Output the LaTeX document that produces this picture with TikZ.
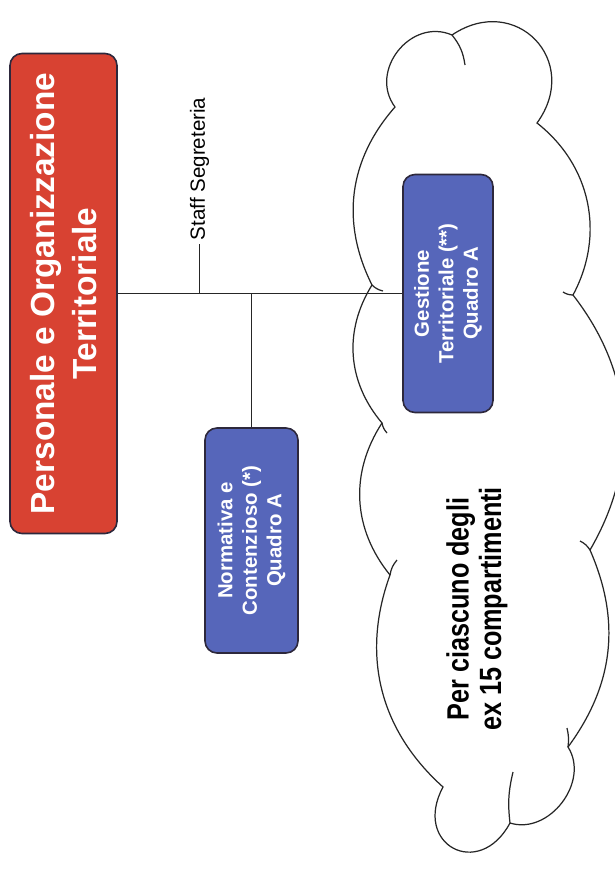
\documentclass[tikz,border=0pt]{standalone}
\usepackage{fontspec}
\setmainfont{Liberation Sans}
\newfontfamily\narrowfont[FakeStretch=0.82]{Liberation Sans}
\usetikzlibrary{positioning,calc}
\definecolor{orgred}{RGB}{216,66,50}
\definecolor{orgblue}{RGB}{86,102,186}
\definecolor{orgedge}{RGB}{45,40,60}
\tikzset{
  headbox/.style={
    rectangle, rounded corners=0.24cm, draw=orgedge, line width=0.9pt,
    fill=orgred, text=white, rotate=90,
    minimum width=9.6cm, minimum height=2.14cm,
    align=center, inner sep=0pt,
    font=\fontsize{19}{23.8}\selectfont\bfseries
  },
  unitbox/.style={
    rectangle, rounded corners=0.24cm, draw=orgedge, line width=0.9pt,
    fill=orgblue, text=white, rotate=90,
    align=center, inner sep=0pt,
    font=\fontsize{11.6}{14}\selectfont\bfseries
  },
  staffnote/.style={rotate=90, inner sep=2pt, font=\fontsize{11.7}{14}\selectfont},
  cloudtext/.style={rotate=90, align=center, font=\narrowfont\fontsize{17.5}{18.5}\selectfont\bfseries},
  conn/.style={draw=black!85, line width=0.85pt},
  cloudline/.style={draw=black!85, line width=0.7pt}
}

\begin{document}
\begin{tikzpicture}[x=0.2mm, y=0.2mm]
  \useasboundingbox (0,0) rectangle (614,-873);

  \draw[cloudline, fill=white]
    (395,-107) to[bend left=75, looseness=1.25] (452,-35)
    to[bend left=80, looseness=1.6] (537,-123)
    to[bend left=40] (573,-295)
    to[bend left=34] (590,-550)
    to[bend left=30] (568,-747)
    to[bend left=70, looseness=1.1] (510,-823)
    to[bend left=90, looseness=2.2] (443,-787)
    to[bend left=34] (390,-575)
    to[bend left=36] (382,-423)
    to[bend left=36] (372,-285)
    to[bend left=34] (395,-107) -- cycle;
  \draw[cloudline] (452,-35) to[bend left=15] (465,-65);
  \draw[cloudline] (372,-285) to[bend right=15] (383,-291);
  \draw[cloudline] (573,-295) to[bend left=15] (563,-292);
  \draw[cloudline] (590,-550) to[bend right=15] (580,-541);
  \draw[cloudline] (568,-747) to[bend right=10] (567,-728);
  \draw[cloudline] (510,-823) to[bend left=10] (513,-772);
  \draw[cloudline] (390,-575) to[bend left=15] (397,-560);
  \draw[cloudline] (382,-423) to[bend right=15] (387,-433);

  \node[headbox] (pers) at (63.5,-293.5) {Personale e Organizzazione\\Territoriale};
  \node[unitbox, minimum width=4.5cm, minimum height=1.86cm] (norm) at (251.5,-540.5)
    {Normativa e\\Contenzioso (*)\\Quadro A};
  \node[unitbox, minimum width=4.76cm, minimum height=1.8cm] (gest) at (448,-293.5)
    {Gestione\\Territoriale (**)\\Quadro A};
  \node[staffnote, anchor=west] (staff) at (199.5,-244) {Staff Segreteria};
  \node[cloudtext] (comp) at (477,-609) {Per ciascuno degli\\ex 15 compartimenti};

  \draw[conn] (pers.south) -- (gest.north);
  \draw[conn] (staff.west) -- (staff.west |- pers.south);
  \draw[conn] (norm.east |- pers.south) -- (norm.east);
\end{tikzpicture}
\end{document}
